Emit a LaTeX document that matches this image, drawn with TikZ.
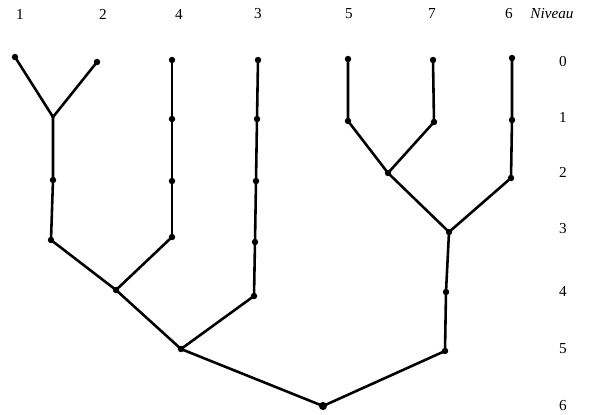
\documentclass[tikz,border=0pt]{standalone}
\usepackage{fontspec}
\setmainfont{Liberation Serif}
\begin{document}
\begin{tikzpicture}[x={(0.03cm,0)},y={(0,-0.03cm)},
  dot/.style={circle,fill=black,inner sep=0pt,minimum size=5.5pt},
  bigdot/.style={circle,fill=black,inner sep=0pt,minimum size=7pt},
  edge/.style={line width=2.2pt,line cap=round,line join=round},
  lab/.style={font=\fontsize{13}{15}\selectfont,inner sep=0pt}]
\useasboundingbox (0,0) rectangle (596,414);
% top labels
\node[lab] (t1) at (20,14) {1};
\node[lab] (t2) at (103,14) {2};
\node[lab] (t4) at (179,14) {4};
\node[lab] (t3) at (258,14) {3};
\node[lab] (t5) at (349,14) {5};
\node[lab] (t7) at (432,14) {7};
\node[lab] (t6) at (509,14) {6};
\node[lab,font=\fontsize{13}{15}\selectfont\itshape] (niv) at (552,14) {Niveau};
% level labels
\node[lab] (l0) at (563,62) {0};
\node[lab] (l1) at (563,117) {1};
\node[lab] (l2) at (563,172) {2};
\node[lab] (l3) at (563,229) {3};
\node[lab] (l4) at (563,291) {4};
\node[lab] (l5) at (563,349) {5};
\node[lab] (l6) at (563,406) {6};
% nodes
\node[dot] (a1) at (15,57) {};
\node[dot] (a2) at (97,62) {};
\node[dot,minimum size=3pt] (j12) at (53,117) {};
\node[dot] (b1) at (53,180) {};
\node[dot] (b2) at (51,240) {};
\node[dot] (c0) at (172,60) {};
\node[dot] (c1) at (172,119) {};
\node[dot] (c2) at (172,181) {};
\node[dot] (c3) at (172,237) {};
\node[dot] (j4) at (116,290) {};
\node[dot] (d0) at (258,60) {};
\node[dot] (d1) at (257,119) {};
\node[dot] (d2) at (256,181) {};
\node[dot] (d3) at (255,242) {};
\node[dot] (d4) at (254,296) {};
\node[dot] (j5) at (181,349) {};
\node[dot] (e0) at (348,59) {};
\node[dot] (e1) at (348,121) {};
\node[dot] (f0) at (433,60) {};
\node[dot] (f1) at (434,122) {};
\node[dot] (j57) at (388,173) {};
\node[dot] (g0) at (512,58) {};
\node[dot] (g1) at (512,120) {};
\node[dot] (g2) at (511,178) {};
\node[dot] (j3) at (449,232) {};
\node[dot] (h4) at (446,292) {};
\node[dot] (h5) at (445,351) {};
\node[bigdot] (root) at (323,406) {};
% edges
\draw[edge] (a1.center) -- (j12.center) -- (a2.center);
\draw[edge] (j12.center) -- (b1.center) -- (b2.center);
\draw[edge] (c0.center) -- (c1.center) -- (c2.center) -- (c3.center);
\draw[edge] (b2.center) -- (j4.center) -- (c3.center);
\draw[edge] (d0.center) -- (d1.center) -- (d2.center) -- (d3.center) -- (d4.center);
\draw[edge] (j4.center) -- (j5.center) -- (d4.center);
\draw[edge] (e0.center) -- (e1.center) -- (j57.center) -- (f1.center) -- (f0.center);
\draw[edge] (g0.center) -- (g1.center) -- (g2.center);
\draw[edge] (j57.center) -- (j3.center) -- (g2.center);
\draw[edge] (j3.center) -- (h4.center) -- (h5.center);
\draw[edge] (j5.center) -- (root.center) -- (h5.center);
\end{tikzpicture}
\end{document}
